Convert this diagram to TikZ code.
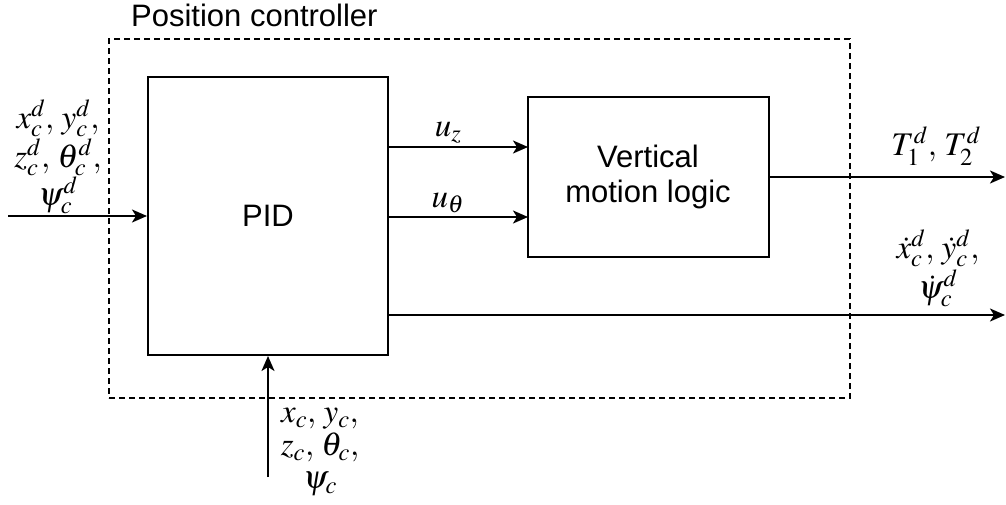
\documentclass[tikz,border=0pt]{standalone}
\usepackage{mathptmx}
\usepackage{fontspec}
\setmainfont{Liberation Sans}
\usetikzlibrary{arrows.meta}
\begin{document}
\begin{tikzpicture}[x=1pt,y=-1pt,
  blk/.style={draw,line width=2pt,inner sep=0pt},
  conn/.style={line width=2pt,-{Stealth[length=15pt,width=13pt,inset=4pt]}},
  lbl/.style={inner sep=0pt,align=center},
  txt/.style={font=\fontsize{31}{35}\selectfont,inner sep=0pt,align=center}]
\useasboundingbox (0,0) rectangle (1006,504);
\node[draw,line width=2pt,dash pattern=on 6pt off 4pt,minimum width=741pt,minimum height=359pt,inner sep=0pt,anchor=north west] (ctrl) at (108,38) {};
\node[txt,anchor=west] (title) at (131,15) {Position controller};
\node[blk,txt,minimum width=240pt,minimum height=278pt] (pid) at (268,216) {PID};
\node[blk,txt,minimum width=241pt,minimum height=160pt] (vml) at (648,177) {Vertical\\motion logic};
\coordinate (in) at (8,216);
\coordinate (uz) at (528,147);
\coordinate (ut) at (528,217);
\coordinate (tout) at (1005,177);
\coordinate (vout) at (1005,315);
\coordinate (fb) at (268,477);
\draw[conn] (in) -- (pid.west);
\draw[conn] (pid.east |- uz) -- (uz);
\draw[conn] (pid.east |- ut) -- (ut);
\draw[conn] (vml.east) -- (tout);
\draw[conn] (pid.east |- vout) -- (vout);
\draw[conn] (fb) -- (pid.south);
\node[lbl,font=\fontsize{33}{38.5}\selectfont] (lin) at (58,157) {$x_c^d,\, y_c^d,$\\$z_c^d,\, \theta_c^d,$\\$\psi_c^d$};
\node[lbl,font=\fontsize{33}{34}\selectfont] (luz) at (448,133) {$u_z$};
\node[lbl,font=\fontsize{33}{34}\selectfont] (lut) at (448,203) {$u_\theta$};
\node[lbl,font=\fontsize{33}{34}\selectfont] (lt) at (936,146) {$T_1^d,\, T_2^d$};
\node[lbl,font=\fontsize{33}{40}\selectfont] (lv) at (938,268) {$\dot{x}_c^d,\, \dot{y}_c^d,$\\$\dot{\psi}_c^d$};
\node[lbl,font=\fontsize{33}{33}\selectfont] (lfb) at (320,452) {$x_c,\, y_c,$\\$z_c,\, \theta_c,$\\$\psi_c$};
\end{tikzpicture}
\end{document}
